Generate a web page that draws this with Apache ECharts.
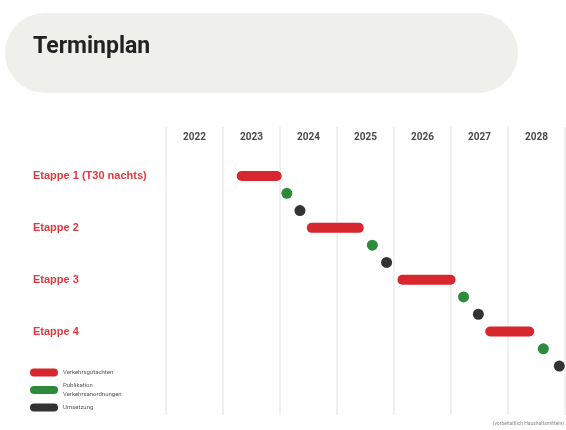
<!DOCTYPE html>
<html>
<head>
<meta charset="utf-8">
<script src="https://cdn.jsdelivr.net/npm/echarts@6/dist/echarts.min.js"></script>
<style>
  html, body { margin: 0; padding: 0; background: #fff; }
  #chart { width: 566px; height: 430px; }
</style>
</head>
<body>
<div id="chart"></div>
<script>
// Spalten (Jahre) und Etappen
var years = ["2022", "2023", "2024", "2025", "2026", "2027", "2028"];
var stages = ["Etappe 1 (T30 nachts)", "Etappe 2", "Etappe 3", "Etappe 4"];
var phases = ["Verkehrsgutachten", "Publikation\nVerkehrsanordnungen", "Umsetzung"];

// Zeitpunkte in Jahren (Dezimal)
var gutachtenStart = [2023.24, 2024.47, 2026.06, 2027.6];
var gutachtenEnd = [2024.03, 2025.47, 2027.08, 2028.46];
var publikation = [2024.12, 2025.62, 2027.22, 2028.62];
var umsetzung = [2024.35, 2025.87, 2027.48, 2028.9];

// 3 Zeilen je Etappe
var rows = [];
stages.forEach(function (s, i) {
  rows.push(s, s + " P", s + " U");
});

var red = "#d8262e";
var green = "#2e8a3c";
var dark = "#333333";

var barData = gutachtenStart.map(function (s, i) {
  return [s, gutachtenEnd[i], i * 3];
});
var pubData = publikation.map(function (v, i) {
  return [v, i * 3 + 1];
});
var umsData = umsetzung.map(function (v, i) {
  return [v, i * 3 + 2];
});

var myChart = echarts.init(document.getElementById("chart"));

var option = {
  animation: false,
  title: {
    text: "Terminplan",
    left: 28,
    top: 31,
    textStyle: {
      fontFamily: "Roboto",
      fontSize: 23,
      fontWeight: "bold",
      color: "#222",
    },
  },
  graphic: [
    {
      type: "rect",
      z: -10,
      shape: { x: 5, y: 13, width: 513, height: 80, r: 40 },
      style: { fill: "#efefec" },
    },
    {
      type: "text",
      right: 2,
      bottom: 4,
      style: {
        text: "(vorbehaltlich Haushaltsmitteln)",
        fontSize: 5,
        fill: "#888",
        fontFamily: "Roboto",
      },
    },
  ],
  legend: {
    orient: "vertical",
    left: 25,
    top: 363,
    itemWidth: 28,
    itemHeight: 8,
    itemGap: 4,
    icon: "path://M4,0H24A4,4 0 0 1 24,8H4A4,4 0 0 1 4,0Z",
    textStyle: { fontSize: 6, color: "#555", lineHeight: 9, fontFamily: "Roboto" },
    data: phases,
  },
  grid: [
    // Raster mit Jahresspalten
    { left: 166, right: 1, top: 127, bottom: 15 },
    // Datenbereich
    { left: 166, right: 1, top: 167.4, bottom: 55.3 },
  ],
  xAxis: [
    {
      type: "value",
      gridIndex: 0,
      min: 2022,
      max: 2029,
      interval: 1,
      axisLine: { show: false },
      axisTick: { show: false },
      axisLabel: { show: false },
      splitLine: { lineStyle: { color: "#ebebeb", width: 1.5 } },
    },
    {
      type: "category",
      gridIndex: 0,
      position: "top",
      data: years,
      axisLine: { show: false },
      axisTick: { show: false },
      axisLabel: {
        inside: true,
        margin: 5,
        fontSize: 10,
        fontWeight: "bold",
        color: "#4a4a4a",
        fontFamily: "Roboto",
      },
      splitLine: { show: false },
    },
    {
      type: "value",
      gridIndex: 1,
      min: 2022,
      max: 2029,
      interval: 1,
      show: false,
    },
  ],
  yAxis: [
    { type: "value", gridIndex: 0, show: false },
    {
      type: "category",
      gridIndex: 1,
      inverse: true,
      data: rows,
      axisLine: { show: false },
      axisTick: { show: false },
      splitLine: { show: false },
      axisLabel: {
        align: "left",
        margin: 133,
        fontSize: 11,
        fontWeight: "bold",
        color: "#e03a40",
        fontFamily: "Liberation Sans",
        interval: 0,
        formatter: function (value, index) {
          return index % 3 === 0 ? value : "";
        },
      },
    },
  ],
  series: [
    {
      name: phases[0],
      type: "custom",
      xAxisIndex: 2,
      yAxisIndex: 1,
      itemStyle: { color: red },
      renderItem: function (params, api) {
        var start = api.coord([api.value(0), api.value(2)]);
        var end = api.coord([api.value(1), api.value(2)]);
        var h = 10;
        return {
          type: "rect",
          shape: { x: start[0], y: start[1] - h / 2, width: end[0] - start[0], height: h, r: h / 2 },
          style: { fill: red },
        };
      },
      encode: { x: [0, 1], y: 2 },
      data: barData,
    },
    {
      name: phases[1],
      type: "scatter",
      xAxisIndex: 2,
      yAxisIndex: 1,
      symbolSize: 11,
      clip: false,
      itemStyle: { color: green, opacity: 1 },
      data: pubData,
    },
    {
      name: phases[2],
      type: "scatter",
      xAxisIndex: 2,
      yAxisIndex: 1,
      symbolSize: 11,
      clip: false,
      itemStyle: { color: dark, opacity: 1 },
      data: umsData,
    },
  ],
};

myChart.setOption(option, true);
</script>
</body>
</html>
